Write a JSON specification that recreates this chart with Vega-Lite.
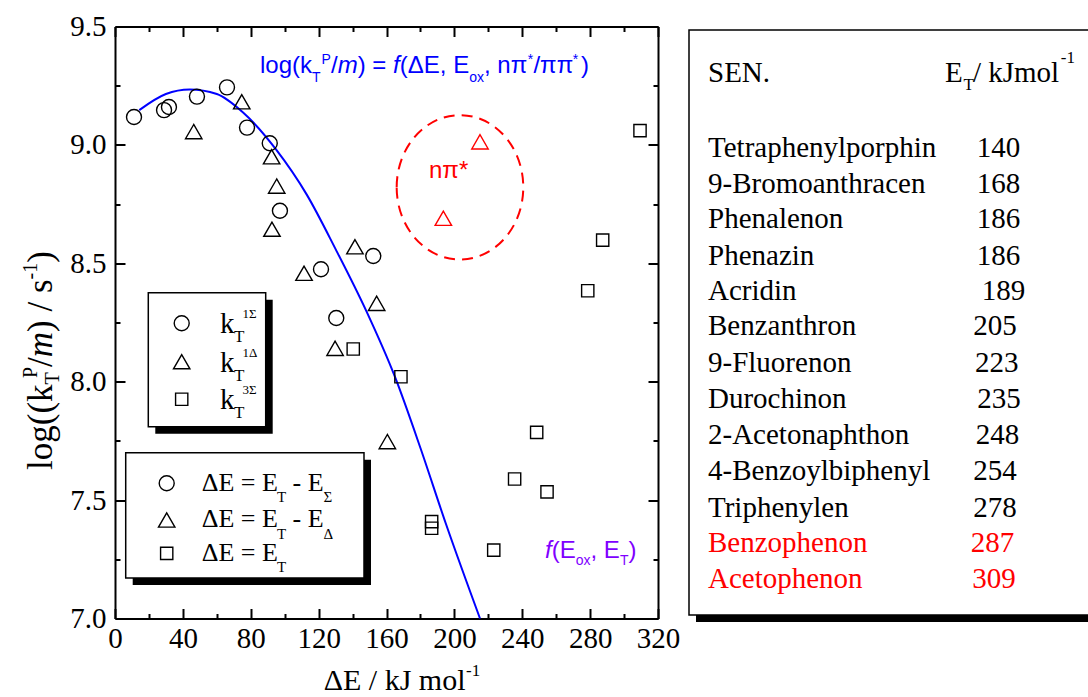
{
  "$schema": "https://vega.github.io/schema/vega-lite/v6.json",
  "width": 543,
  "height": 592,
  "autosize": {"type": "none"},
  "padding": {"left": 115, "top": 26.5, "right": 430, "bottom": 78.5},
  "background": "white",
  "datasets": {
    "symbols": [
      {"x": 11.2, "y": 9.118, "series": "1Σ", "state": "ππ*"},
      {"x": 28.9, "y": 9.147, "series": "1Σ", "state": "ππ*"},
      {"x": 31.8, "y": 9.160, "series": "1Σ", "state": "ππ*"},
      {"x": 48.3, "y": 9.204, "series": "1Σ", "state": "ππ*"},
      {"x": 66.0, "y": 9.243, "series": "1Σ", "state": "ππ*"},
      {"x": 77.8, "y": 9.073, "series": "1Σ", "state": "ππ*"},
      {"x": 91.2, "y": 9.007, "series": "1Σ", "state": "ππ*"},
      {"x": 97.2, "y": 8.722, "series": "1Σ", "state": "ππ*"},
      {"x": 121.4, "y": 8.475, "series": "1Σ", "state": "ππ*"},
      {"x": 152.2, "y": 8.531, "series": "1Σ", "state": "ππ*"},
      {"x": 130.4, "y": 8.269, "series": "1Σ", "state": "ππ*"},
      {"x": 46.4, "y": 9.056, "series": "1Δ", "state": "ππ*"},
      {"x": 74.7, "y": 9.182, "series": "1Δ", "state": "ππ*"},
      {"x": 92.3, "y": 8.950, "series": "1Δ", "state": "ππ*"},
      {"x": 95.3, "y": 8.826, "series": "1Δ", "state": "ππ*"},
      {"x": 92.5, "y": 8.644, "series": "1Δ", "state": "ππ*"},
      {"x": 111.4, "y": 8.458, "series": "1Δ", "state": "ππ*"},
      {"x": 141.4, "y": 8.570, "series": "1Δ", "state": "ππ*"},
      {"x": 154.2, "y": 8.331, "series": "1Δ", "state": "ππ*"},
      {"x": 129.7, "y": 8.141, "series": "1Δ", "state": "ππ*"},
      {"x": 160.5, "y": 7.747, "series": "1Δ", "state": "ππ*"},
      {"x": 215.1, "y": 9.013, "series": "1Δ", "state": "nπ*"},
      {"x": 193.5, "y": 8.690, "series": "1Δ", "state": "nπ*"},
      {"x": 140.4, "y": 8.138, "series": "3Σ", "state": "ππ*"},
      {"x": 168.5, "y": 8.021, "series": "3Σ", "state": "ππ*"},
      {"x": 186.6, "y": 7.409, "series": "3Σ", "state": "ππ*"},
      {"x": 186.6, "y": 7.381, "series": "3Σ", "state": "ππ*"},
      {"x": 223.2, "y": 7.289, "series": "3Σ", "state": "ππ*"},
      {"x": 235.5, "y": 7.589, "series": "3Σ", "state": "ππ*"},
      {"x": 248.5, "y": 7.786, "series": "3Σ", "state": "ππ*"},
      {"x": 254.6, "y": 7.535, "series": "3Σ", "state": "ππ*"},
      {"x": 278.6, "y": 8.384, "series": "3Σ", "state": "ππ*"},
      {"x": 287.4, "y": 8.598, "series": "3Σ", "state": "ππ*"},
      {"x": 309.4, "y": 9.060, "series": "3Σ", "state": "ππ*"},
      {"x": 39.31, "y": 8.247, "series": "1Σ", "state": "ππ*"},
      {"x": 39.31, "y": 8.0845, "series": "1Δ", "state": "ππ*"},
      {"x": 39.31, "y": 7.926, "series": "3Σ", "state": "ππ*"},
      {"x": 30.47, "y": 7.571, "series": "1Σ", "state": "ππ*"},
      {"x": 30.47, "y": 7.416, "series": "1Δ", "state": "ππ*"},
      {"x": 30.47, "y": 7.275, "series": "3Σ", "state": "ππ*"}
    ],
    "fit": [
      {"x": 14.3, "y": 9.147},
      {"x": 30, "y": 9.215},
      {"x": 44, "y": 9.234},
      {"x": 60, "y": 9.215},
      {"x": 75, "y": 9.14},
      {"x": 95, "y": 8.98},
      {"x": 113, "y": 8.79},
      {"x": 130, "y": 8.56},
      {"x": 148, "y": 8.30},
      {"x": 165, "y": 8.02},
      {"x": 180, "y": 7.72},
      {"x": 195, "y": 7.40},
      {"x": 215.1, "y": 7.00}
    ],
    "ellipse": [{"x": 203.3, "y": 8.821}],
    "boxes": [
      {"x": 19.62, "x2": 88.81, "y": 8.376, "y2": 7.810},
      {"x": 6.31, "x2": 146.74, "y": 7.700, "y2": 7.171},
      {"x": 338.27, "x2": 580.48, "y": 9.485, "y2": 7.015}
    ],
    "table": [
      {"name": "Tetraphenylporphin", "et": "140", "y": 8.9502, "xname": 349.47, "xn": 507.81, "state": "ππ*"},
      {"name": "9-Bromoanthracen", "et": "168", "y": 8.7981, "xname": 349.47, "xn": 507.81, "state": "ππ*"},
      {"name": "Phenalenon", "et": "186", "y": 8.6478, "xname": 349.47, "xn": 507.81, "state": "ππ*"},
      {"name": "Phenazin", "et": "186", "y": 8.4928, "xname": 349.47, "xn": 507.81, "state": "ππ*"},
      {"name": "Acridin", "et": "189", "y": 8.3450, "xname": 349.47, "xn": 510.76, "state": "ππ*"},
      {"name": "Benzanthron", "et": "205", "y": 8.1972, "xname": 349.47, "xn": 505.81, "state": "ππ*"},
      {"name": "9-Fluorenon", "et": "223", "y": 8.0422, "xname": 349.47, "xn": 506.81, "state": "ππ*"},
      {"name": "Durochinon", "et": "235", "y": 7.8877, "xname": 349.47, "xn": 508.16, "state": "ππ*"},
      {"name": "2-Acetonaphthon", "et": "248", "y": 7.7369, "xname": 349.47, "xn": 507.22, "state": "ππ*"},
      {"name": "4-Benzoylbiphenyl", "et": "254", "y": 7.5849, "xname": 349.47, "xn": 505.81, "state": "ππ*"},
      {"name": "Triphenylen", "et": "278", "y": 7.4299, "xname": 349.47, "xn": 505.81, "state": "ππ*"},
      {"name": "Benzophenon", "et": "287", "y": 7.2821, "xname": 349.47, "xn": 504.28, "state": "nπ*"},
      {"name": "Acetophenon", "et": "309", "y": 7.1275, "xname": 349.47, "xn": 505.22, "state": "nπ*"}
    ],
    "serif": [
      {"t": "k", "x": 61.88, "y": 8.2044, "part": "m29"},
      {"t": "k", "x": 61.88, "y": 8.0422, "part": "m29"},
      {"t": "k", "x": 61.88, "y": 7.8835, "part": "m29"},
      {"t": "SEN.", "x": 349.47, "y": 9.2669, "part": "m29"},
      {"t": "E", "x": 489.13, "y": 9.2669, "part": "m29"},
      {"t": "/ kJmol", "x": 505.6, "y": 9.2669, "part": "m29"},
      {"t": "T", "x": 70.13, "y": 8.1664, "part": "s17"},
      {"t": "T", "x": 70.13, "y": 8.0043, "part": "s17"},
      {"t": "T", "x": 70.13, "y": 7.8455, "part": "s17"},
      {"t": "T", "x": 500.0, "y": 9.2318, "part": "s17"},
      {"t": "-1", "x": 557.4, "y": 9.3446, "part": "s17"},
      {"t": "-1", "x": 206.85, "y": 6.7571, "part": "s17"},
      {"t": "1Σ", "x": 75.1, "y": 8.2677, "part": "s13"},
      {"t": "1Δ", "x": 75.1, "y": 8.1056, "part": "s13"},
      {"t": "3Σ", "x": 75.1, "y": 7.9468, "part": "s13"},
      {"t": "ΔE = E", "x": 51.09, "y": 7.5393, "part": "m26"},
      {"t": "ΔE = E", "x": 51.09, "y": 7.3843, "part": "m26"},
      {"t": "ΔE = E", "x": 51.09, "y": 7.2436, "part": "m26"},
      {"t": "- E", "x": 104.60, "y": 7.5393, "part": "m26"},
      {"t": "- E", "x": 104.60, "y": 7.3843, "part": "m26"},
      {"t": "T", "x": 95.47, "y": 7.4928, "part": "s15"},
      {"t": "T", "x": 95.47, "y": 7.3378, "part": "s15"},
      {"t": "T", "x": 95.47, "y": 7.1972, "part": "s15"},
      {"t": "Σ", "x": 122.93, "y": 7.4928, "part": "s15"},
      {"t": "Δ", "x": 122.93, "y": 7.3378, "part": "s15"},
      {"t": "ΔE / kJ mol", "x": 122.99, "y": 6.6980, "part": "m30"}
    ],
    "ytitle": [
      {"t": "log((k", "x": -37.13, "y": 7.6271, "part": "main"},
      {"t": "/", "x": -37.13, "y": 8.0621, "part": "main"},
      {"t": ") / s", "x": -37.13, "y": 8.2099, "part": "main"},
      {"t": ")", "x": -37.13, "y": 8.5021, "part": "main"},
      {"t": "m", "x": -37.13, "y": 8.1030, "part": "ital"},
      {"t": "T", "x": -33.0, "y": 7.9882, "part": "small"},
      {"t": "P", "x": -45.97, "y": 8.0156, "part": "small"},
      {"t": "-1", "x": -45.97, "y": 8.4316, "part": "small"}
    ],
    "sans": [
      {"t": "log(k", "x": 85.45, "y": 9.3024, "grp": "formula", "part": "main"},
      {"t": "/", "x": 127.29, "y": 9.3024, "grp": "formula", "part": "main"},
      {"t": ") =", "x": 143.03, "y": 9.3024, "grp": "formula", "part": "main"},
      {"t": "(ΔE, E", "x": 167.84, "y": 9.3024, "grp": "formula", "part": "main"},
      {"t": ", nπ", "x": 217.46, "y": 9.3024, "grp": "formula", "part": "main"},
      {"t": "/ππ", "x": 246.6, "y": 9.3024, "grp": "formula", "part": "main"},
      {"t": ")", "x": 274.6, "y": 9.3024, "grp": "formula", "part": "main"},
      {"t": "m", "x": 131.24, "y": 9.3024, "grp": "formula", "part": "ital"},
      {"t": "f", "x": 163.89, "y": 9.3024, "grp": "formula", "part": "ital"},
      {"t": "T", "x": 116.10, "y": 9.2677, "grp": "formula", "part": "small"},
      {"t": "P", "x": 121.69, "y": 9.3437, "grp": "formula", "part": "small"},
      {"t": "ox", "x": 208.74, "y": 9.2677, "grp": "formula", "part": "small"},
      {"t": "*", "x": 243.2, "y": 9.3437, "grp": "formula", "part": "small"},
      {"t": "*", "x": 269.7, "y": 9.3437, "grp": "formula", "part": "small"},
      {"t": "nπ*", "x": 185.04, "y": 8.8589, "grp": "nπ*", "part": "main"},
      {"t": "(E", "x": 257.35, "y": 7.2542, "grp": "fit", "part": "main"},
      {"t": ", E", "x": 280.22, "y": 7.2542, "grp": "fit", "part": "main"},
      {"t": ")", "x": 302.61, "y": 7.2542, "grp": "fit", "part": "main"},
      {"t": "f", "x": 253.40, "y": 7.2542, "grp": "fit", "part": "ital"},
      {"t": "ox", "x": 271.49, "y": 7.2259, "grp": "fit", "part": "small"},
      {"t": "T", "x": 297.54, "y": 7.2259, "grp": "fit", "part": "small"}
    ]
  },
  "encoding": {
    "x": {"field": "x", "type": "quantitative", "scale": {"domain": [0, 320], "nice": false, "zero": false}, "axis": null},
    "y": {"field": "y", "type": "quantitative", "scale": {"domain": [7, 9.5], "nice": false, "zero": false}, "axis": null}
  },
  "layer": [
    {
      "data": {"name": "boxes"},
      "mark": {"type": "rect", "fill": "black", "xOffset": 7, "x2Offset": 7, "yOffset": 7, "y2Offset": 7},
      "encoding": {"x2": {"field": "x2"}, "y2": {"field": "y2"}}
    },
    {
      "data": {"name": "boxes"},
      "mark": {"type": "rect", "fill": "white", "stroke": "black", "strokeWidth": 1.5},
      "encoding": {"x2": {"field": "x2"}, "y2": {"field": "y2"}}
    },
    {
      "data": {"name": "fit"},
      "mark": {"type": "line", "color": "#0000ff", "strokeWidth": 2, "interpolate": "monotone"},
      "encoding": {
        "x": {"field": "x", "type": "quantitative", "scale": {"domain": [0, 320], "nice": false, "zero": false},
              "axis": {"orient": "top", "values": [20, 60, 100, 140, 180, 220, 260, 300], "tickSize": -5, "labels": false, "domain": false, "title": null}},
        "y": {"field": "y", "type": "quantitative", "scale": {"domain": [7, 9.5], "nice": false, "zero": false},
              "axis": {"orient": "right", "values": [7.25, 7.75, 8.25, 8.75, 9.25], "tickSize": -5, "labels": false, "domain": false, "title": null}}
      }
    },
    {
      "data": {"name": "ellipse"},
      "mark": {"type": "point", "shape": "M-1,0A1,1.14,0,1,1,1,0A1,1.14,0,1,1,-1,0Z", "size": 16028, "filled": false, "color": "#ff0000", "stroke": "#ff0000", "strokeWidth": 2, "strokeDash": [11, 7], "opacity": 1}
    },
    {
      "data": {"name": "symbols"},
      "transform": [{"filter": "datum.series === '1Σ'"}],
      "mark": {"type": "point", "shape": "circle", "size": 225, "filled": false, "strokeWidth": 1.4, "opacity": 1},
      "encoding": {
        "x": {"field": "x", "type": "quantitative", "scale": {"domain": [0, 320], "nice": false, "zero": false},
              "axis": {"orient": "bottom", "values": [0, 40, 80, 120, 160, 200, 240, 280, 320], "tickSize": -10, "labelPadding": 16, "title": null}},
        "y": {"field": "y", "type": "quantitative", "scale": {"domain": [7, 9.5], "nice": false, "zero": false},
              "axis": {"orient": "left", "values": [7, 7.5, 8, 8.5, 9, 9.5], "format": ".1f", "tickSize": -10, "labelPadding": 19, "title": null}},
        "color": {"field": "state", "type": "nominal", "scale": {"domain": ["ππ*", "nπ*", "formula", "fit"], "range": ["#000000", "#ff0000", "#0000ff", "#8000ff"]}, "legend": null}
      }
    },
    {
      "data": {"name": "symbols"},
      "transform": [{"filter": "datum.series === '1Δ'"}],
      "mark": {"type": "point", "shape": "triangle-up", "size": 270, "filled": false, "strokeWidth": 1.4, "opacity": 1},
      "encoding": {
        "x": {"field": "x", "type": "quantitative", "scale": {"domain": [0, 320], "nice": false, "zero": false},
              "axis": {"orient": "bottom", "values": [20, 60, 100, 140, 180, 220, 260, 300], "tickSize": -5, "labels": false, "domain": false, "title": null}},
        "y": {"field": "y", "type": "quantitative", "scale": {"domain": [7, 9.5], "nice": false, "zero": false},
              "axis": {"orient": "left", "values": [7.25, 7.75, 8.25, 8.75, 9.25], "tickSize": -5, "labels": false, "domain": false, "title": null}},
        "color": {"field": "state", "type": "nominal", "scale": {"domain": ["ππ*", "nπ*", "formula", "fit"], "range": ["#000000", "#ff0000", "#0000ff", "#8000ff"]}, "legend": null}
      }
    },
    {
      "data": {"name": "symbols"},
      "transform": [{"filter": "datum.series === '3Σ'"}],
      "mark": {"type": "point", "shape": "square", "size": 150, "filled": false, "strokeWidth": 1.4, "opacity": 1},
      "encoding": {
        "x": {"field": "x", "type": "quantitative", "scale": {"domain": [0, 320], "nice": false, "zero": false},
              "axis": {"orient": "top", "values": [0, 40, 80, 120, 160, 200, 240, 280, 320], "tickSize": -10, "labels": false, "title": null}},
        "y": {"field": "y", "type": "quantitative", "scale": {"domain": [7, 9.5], "nice": false, "zero": false},
              "axis": {"orient": "right", "values": [7, 7.5, 8, 8.5, 9, 9.5], "tickSize": -10, "labels": false, "title": null}},
        "color": {"field": "state", "type": "nominal", "scale": {"domain": ["ππ*", "nπ*", "formula", "fit"], "range": ["#000000", "#ff0000", "#0000ff", "#8000ff"]}, "legend": null}
      }
    },
    {
      "data": {"name": "table"},
      "mark": {"type": "text", "font": "Liberation Serif", "fontSize": 29, "align": "left", "baseline": "alphabetic"},
      "encoding": {
        "x": {"field": "xname", "type": "quantitative", "axis": null},
        "text": {"field": "name"},
        "color": {"field": "state", "type": "nominal", "scale": {"domain": ["ππ*", "nπ*", "formula", "fit"], "range": ["#000000", "#ff0000", "#0000ff", "#8000ff"]}, "legend": null}
      }
    },
    {
      "data": {"name": "table"},
      "mark": {"type": "text", "font": "Liberation Serif", "fontSize": 29, "align": "left", "baseline": "alphabetic"},
      "encoding": {
        "x": {"field": "xn", "type": "quantitative", "axis": null},
        "text": {"field": "et"},
        "color": {"field": "state", "type": "nominal", "scale": {"domain": ["ππ*", "nπ*", "formula", "fit"], "range": ["#000000", "#ff0000", "#0000ff", "#8000ff"]}, "legend": null}
      }
    },
    {
      "data": {"name": "serif"},
      "transform": [{"filter": "datum.part === 'm29'"}],
      "mark": {"type": "text", "font": "Liberation Serif", "fontSize": 29, "align": "left", "baseline": "alphabetic", "color": "black"},
      "encoding": {"text": {"field": "t"}}
    },
    {
      "data": {"name": "serif"},
      "transform": [{"filter": "datum.part === 'm30'"}],
      "mark": {"type": "text", "font": "Liberation Serif", "fontSize": 30, "align": "left", "baseline": "alphabetic", "color": "black"},
      "encoding": {"text": {"field": "t"}}
    },
    {
      "data": {"name": "serif"},
      "transform": [{"filter": "datum.part === 'm26'"}],
      "mark": {"type": "text", "font": "Liberation Serif", "fontSize": 26, "align": "left", "baseline": "alphabetic", "color": "black"},
      "encoding": {"text": {"field": "t"}}
    },
    {
      "data": {"name": "serif"},
      "transform": [{"filter": "datum.part === 's17'"}],
      "mark": {"type": "text", "font": "Liberation Serif", "fontSize": 17, "align": "left", "baseline": "alphabetic", "color": "black"},
      "encoding": {"text": {"field": "t"}}
    },
    {
      "data": {"name": "serif"},
      "transform": [{"filter": "datum.part === 's15'"}],
      "mark": {"type": "text", "font": "Liberation Serif", "fontSize": 15, "align": "left", "baseline": "alphabetic", "color": "black"},
      "encoding": {"text": {"field": "t"}}
    },
    {
      "data": {"name": "serif"},
      "transform": [{"filter": "datum.part === 's13'"}],
      "mark": {"type": "text", "font": "Liberation Serif", "fontSize": 13, "align": "left", "baseline": "alphabetic", "color": "black"},
      "encoding": {"text": {"field": "t"}}
    },
    {
      "data": {"name": "ytitle"},
      "transform": [{"filter": "datum.part === 'main'"}],
      "mark": {"type": "text", "font": "Liberation Serif", "fontSize": 35, "angle": 270, "align": "left", "baseline": "alphabetic", "color": "black"},
      "encoding": {"text": {"field": "t"}}
    },
    {
      "data": {"name": "ytitle"},
      "transform": [{"filter": "datum.part === 'ital'"}],
      "mark": {"type": "text", "font": "Liberation Serif", "fontSize": 35, "fontStyle": "italic", "angle": 270, "align": "left", "baseline": "alphabetic", "color": "black"},
      "encoding": {"text": {"field": "t"}}
    },
    {
      "data": {"name": "ytitle"},
      "transform": [{"filter": "datum.part === 'small'"}],
      "mark": {"type": "text", "font": "Liberation Serif", "fontSize": 20, "angle": 270, "align": "left", "baseline": "alphabetic", "color": "black"},
      "encoding": {"text": {"field": "t"}}
    },
    {
      "data": {"name": "sans"},
      "transform": [{"filter": "datum.part === 'main'"}],
      "mark": {"type": "text", "font": "Liberation Sans", "fontSize": 24, "align": "left", "baseline": "alphabetic"},
      "encoding": {
        "text": {"field": "t"},
        "color": {"field": "grp", "type": "nominal", "scale": {"domain": ["ππ*", "nπ*", "formula", "fit"], "range": ["#000000", "#ff0000", "#0000ff", "#8000ff"]}, "legend": null}
      }
    },
    {
      "data": {"name": "sans"},
      "transform": [{"filter": "datum.part === 'ital'"}],
      "mark": {"type": "text", "font": "Liberation Sans", "fontSize": 24, "fontStyle": "italic", "align": "left", "baseline": "alphabetic"},
      "encoding": {
        "text": {"field": "t"},
        "color": {"field": "grp", "type": "nominal", "scale": {"domain": ["ππ*", "nπ*", "formula", "fit"], "range": ["#000000", "#ff0000", "#0000ff", "#8000ff"]}, "legend": null}
      }
    },
    {
      "data": {"name": "sans"},
      "transform": [{"filter": "datum.part === 'small'"}],
      "mark": {"type": "text", "font": "Liberation Sans", "fontSize": 14, "align": "left", "baseline": "alphabetic"},
      "encoding": {
        "text": {"field": "t"},
        "color": {"field": "grp", "type": "nominal", "scale": {"domain": ["ππ*", "nπ*", "formula", "fit"], "range": ["#000000", "#ff0000", "#0000ff", "#8000ff"]}, "legend": null}
      }
    }
  ],
  "resolve": {"axis": {"x": "independent", "y": "independent"}},
  "config": {
    "view": {"stroke": null},
    "axis": {
      "grid": false,
      "domainColor": "black",
      "domainWidth": 2,
      "tickColor": "black",
      "tickWidth": 2,
      "labelColor": "black",
      "labelFont": "Liberation Serif",
      "labelFontSize": 29,
      "labelOverlap": false,
      "labelFlush": false,
      "labelBound": false
    }
  }
}
